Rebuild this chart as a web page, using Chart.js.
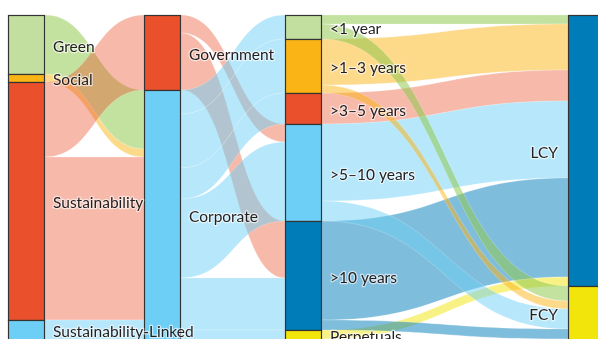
<!DOCTYPE html>
<html lang="en">
<head>
<meta charset="UTF-8">
<title>Bond flows</title>
<script src="https://cdn.jsdelivr.net/npm/chart.js"></script>
<style>
  html, body { margin: 0; padding: 0; background: #fff; }
  #wrap { position: relative; width: 598px; height: 339px; }
</style>
</head>
<body>
<div id="wrap"><canvas id="flows"></canvas></div>
<script>
// node columns, top to bottom (all columns share the same total)
const bondTypes = ['Green', 'Social', 'Sustainability', 'Sustainability-Linked'];
const bondTypeValues = [59, 8, 238, 39];
const issuers = ['Government', 'Corporate'];
const issuerValues = [75, 269];
const tenors = ['<1 year', '>1–3 years', '>3–5 years', '>5–10 years', '>10 years', 'Perpetuals'];
const tenorValues = [24, 54, 31, 97, 109, 29];
const currencies = ['LCY', 'FCY'];
const currencyValues = [271, 73];

// links as [from, to, value], listed in drawing order
const typeToIssuer = [
  ['Green', 'Corporate', 59],
  ['Social', 'Corporate', 8],
  ['Sustainability', 'Government', 75],
  ['Sustainability', 'Corporate', 163],
  ['Sustainability-Linked', 'Corporate', 39]
];
const issuerToTenor = [
  ['Government', '>5–10 years', 18],
  ['Government', '>10 years', 57],
  ['Corporate', '<1 year', 24],
  ['Corporate', '>1–3 years', 54],
  ['Corporate', '>3–5 years', 31],
  ['Corporate', '>5–10 years', 79],
  ['Corporate', '>10 years', 52],
  ['Corporate', 'Perpetuals', 29]
];
const tenorToCurrency = [
  ['<1 year', 'LCY', 9],
  ['>1–3 years', 'LCY', 46],
  ['>3–5 years', 'LCY', 31],
  ['>5–10 years', 'LCY', 77],
  ['>10 years', 'LCY', 99],
  ['Perpetuals', 'LCY', 9],
  ['<1 year', 'FCY', 15],
  ['>1–3 years', 'FCY', 8],
  ['>5–10 years', 'FCY', 20],
  ['>10 years', 'FCY', 10],
  ['Perpetuals', 'FCY', 20]
];

const columns = [
  { names: bondTypes, values: bondTypeValues, x: 0, labelSide: 'right' },
  { names: issuers, values: issuerValues, x: 136, labelSide: 'right' },
  { names: tenors, values: tenorValues, x: 277, labelSide: 'right' },
  { names: currencies, values: currencyValues, x: 560, labelSide: 'left' }
];
const nodeWidth = 37;

const nodeColors = {
  'Green': '#c3df9f', 'Social': '#fbb415', 'Sustainability': '#e9502b', 'Sustainability-Linked': '#6dcff6',
  'Government': '#e9502b', 'Corporate': '#6dcff6',
  '<1 year': '#c3df9f', '>1–3 years': '#fbb415', '>3–5 years': '#e9502b',
  '>5–10 years': '#6dcff6', '>10 years': '#007cb9', 'Perpetuals': '#f2e50b',
  'LCY': '#007cb9', 'FCY': '#f2e50b'
};
const flowColors = {
  '#c3df9f': 'rgba(145,200,80,0.55)',
  '#fbb415': 'rgba(251,180,21,0.5)',
  '#e9502b': 'rgba(233,80,43,0.4)',
  '#6dcff6': 'rgba(109,207,246,0.5)',
  '#007cb9': 'rgba(0,124,185,0.5)',
  '#f2e50b': 'rgba(242,229,11,0.5)'
};

// stack nodes in each column
const nodes = {};
columns.forEach((col, ci) => {
  let acc = 0;
  col.names.forEach((name, i) => {
    nodes[name] = { name, col: ci, x: col.x, top: acc, bottom: acc + col.values[i],
      outY: acc, inY: acc, color: nodeColors[name], side: col.labelSide };
    acc += col.values[i];
  });
});

const links = [...typeToIssuer, ...issuerToTenor, ...tenorToCurrency].map(([s, t, v]) => ({ s, t, v }));

// order link ends at each node (by the other node's position)
Object.values(nodes).forEach(n => {
  links.filter(l => l.s === n.name)
    .sort((a, b) => nodes[a.t].top - nodes[b.t].top)
    .forEach(l => { l.sy = n.outY; n.outY += l.v; });
  links.filter(l => l.t === n.name)
    .sort((a, b) => nodes[a.s].top - nodes[b.s].top)
    .forEach(l => { l.ty = n.inY; n.inY += l.v; });
});

const sankeyPlugin = {
  id: 'sankey',
  afterDatasetsDraw(chart) {
    const { ctx, chartArea, scales: { x, y } } = chart;
    ctx.save();

    // flows
    links.forEach(l => {
      const src = nodes[l.s], tgt = nodes[l.t];
      const x0 = x.getPixelForValue(src.x + nodeWidth);
      const x1 = x.getPixelForValue(tgt.x);
      const xm = (x0 + x1) / 2;
      const a0 = y.getPixelForValue(l.sy), a1 = y.getPixelForValue(l.sy + l.v);
      const b0 = y.getPixelForValue(l.ty), b1 = y.getPixelForValue(l.ty + l.v);
      ctx.beginPath();
      ctx.moveTo(x0, a0);
      ctx.bezierCurveTo(xm, a0, xm, b0, x1, b0);
      ctx.lineTo(x1, b1);
      ctx.bezierCurveTo(xm, b1, xm, a1, x0, a1);
      ctx.closePath();
      ctx.fillStyle = flowColors[src.color];
      ctx.fill();
      ctx.strokeStyle = 'rgba(255,255,255,0.35)';
      ctx.lineWidth = 0.6;
      ctx.stroke();
    });

    // nodes
    Object.values(nodes).forEach(n => {
      const px = x.getPixelForValue(n.x), px2 = x.getPixelForValue(n.x + nodeWidth);
      const py = y.getPixelForValue(n.top), py2 = y.getPixelForValue(n.bottom);
      ctx.fillStyle = n.color;
      ctx.fillRect(px, py, px2 - px, py2 - py);
      ctx.strokeStyle = '#333';
      ctx.lineWidth = 1.2;
      ctx.strokeRect(px + 0.5, py + 0.5, px2 - px - 1, py2 - py);
    });

    // labels, centred on the visible part of each node
    ctx.font = '15.5px Lato, "Open Sans", sans-serif';
    ctx.textBaseline = 'middle';
    ctx.lineJoin = 'round';
    Object.values(nodes).forEach(n => {
      const py = Math.max(y.getPixelForValue(n.top), chartArea.top);
      const py2 = Math.min(y.getPixelForValue(n.bottom), chartArea.bottom);
      const cy = (py + py2) / 2 + 2;
      let tx;
      if (n.side === 'right') {
        tx = x.getPixelForValue(n.x + nodeWidth) + 8;
        ctx.textAlign = 'left';
      } else {
        tx = x.getPixelForValue(n.x) - 10;
        ctx.textAlign = 'right';
      }
      ctx.strokeStyle = 'rgba(255,255,255,0.6)';
      ctx.lineWidth = 2.5;
      ctx.strokeText(n.name, tx, cy);
      ctx.fillStyle = '#231f20';
      ctx.fillText(n.name, tx, cy);
    });
    ctx.restore();
  }
};

new Chart(document.getElementById('flows'), {
  type: 'scatter',
  data: { datasets: [{ data: [] }] },
  options: {
    responsive: true,
    maintainAspectRatio: false,
    devicePixelRatio: 1,
    animation: false,
    layout: { padding: { left: 8, right: 0, top: 15, bottom: 0 } },
    plugins: { legend: { display: false }, tooltip: { enabled: false } },
    scales: {
      x: { type: 'linear', min: 0, max: 590, display: false },
      y: { type: 'linear', min: 0, max: 324, reverse: true, display: false }
    }
  },
  plugins: [sankeyPlugin]
});
</script>
</body>
</html>
